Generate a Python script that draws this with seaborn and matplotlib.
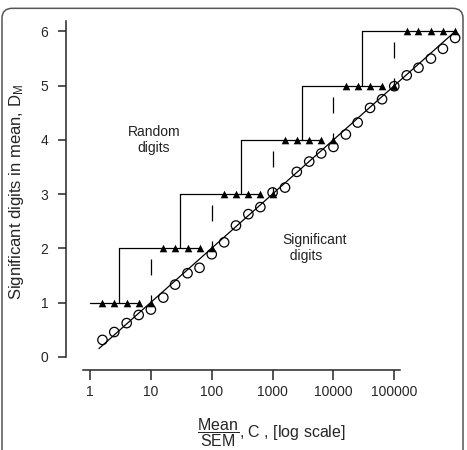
import numpy as np
import pandas as pd
import seaborn as sns
import matplotlib
matplotlib.use("Agg")
import matplotlib.pyplot as plt
from matplotlib.patches import FancyBboxPatch

# mean/SEM ratio C (log spaced) and the digits
ratio = [1.6, 2.5, 4, 6.3, 10, 16, 25, 40, 63, 100,
         160, 250, 400, 630, 1000, 1600, 2500, 4000, 6300, 10000,
         16000, 25000, 40000, 63000, 100000, 160000, 250000, 400000, 630000, 1000000]
sig_digits = [0.31, 0.455, 0.62, 0.77, 0.87, 1.09, 1.33, 1.54, 1.64, 1.89,
              2.11, 2.42, 2.63, 2.76, 3.03, 3.12, 3.41, 3.6, 3.75, 3.87,
              4.1, 4.32, 4.59, 4.75, 4.99, 5.19, 5.33, 5.5, 5.68, 5.88]
rand_digits = [1, 1, 1, 1, 1, 2, 2, 2, 2, 2,
               3, 3, 3, 3, 3, 4, 4, 4, 4, 4,
               5, 5, 5, 5, 5, 6, 6, 6, 6, 6]

# staircase (solid)
step_levels = [1, 2, 3, 4, 5, 6]
step_from = [1, 3, 30, 300, 3000, 30000]
step_to = [6.3, 63, 630, 6300, 63000, 1000000]

# dashed markers at each decade
dash_x = [10, 100, 1000, 10000, 100000]
dash_bottom = [1, 2, 3, 4, 5]
dash_top = [1.8, 2.8, 3.8, 4.8, 5.8]

# diagonal line D = log10(C)
fit_x = [1.4, 1000000]
fit_y = [0.15, 6.0]

xticks = [1, 10, 100, 1000, 10000, 100000]
xtick_labels = ["1", "10", "100", "1000", "10000", "100000"]
yticks = [0, 1, 2, 3, 4, 5, 6]

sns.set_style("ticks")
plt.rcParams["font.family"] = ["Liberation Sans", "DejaVu Sans"]
plt.rcParams["mathtext.fontset"] = "custom"
plt.rcParams["mathtext.rm"] = "Liberation Sans"
plt.rcParams["mathtext.it"] = "Liberation Sans:italic"
plt.rcParams["lines.scale_dashes"] = False

fig = plt.figure(figsize=(4.67, 4.5), dpi=100)
ax = fig.add_axes([0.1407, 0.1784, 0.8469, 0.7878])
ax.set_xscale("log")

rows = []
for i, (lev, x0, x1) in enumerate(zip(step_levels, step_from, step_to)):
    rows += [("h%d" % i, x0, lev), ("h%d" % i, x1, lev)]
    if i > 0:
        rows += [("v%d" % i, x0, lev - 1), ("v%d" % i, x0, lev)]
stairs = pd.DataFrame(rows, columns=["seg", "x", "y"])
sns.lineplot(data=stairs, x="x", y="y", units="seg", estimator=None, sort=False,
             color="black", lw=0.9, ax=ax)

drows = []
for i, (xd, lo, hi) in enumerate(zip(dash_x, dash_bottom, dash_top)):
    drows += [(i, xd, hi), (i, xd, lo)]
dashes = pd.DataFrame(drows, columns=["seg", "x", "y"])
sns.lineplot(data=dashes, x="x", y="y", units="seg", estimator=None, sort=False,
             color="black", lw=0.9, linestyle=(0, (11.5, 14.4)), ax=ax)

sns.lineplot(x=fit_x, y=fit_y, color="black", lw=0.9, ax=ax)

sns.scatterplot(x=ratio, y=sig_digits, marker="o", s=46, color="black",
                linewidth=0.9, ax=ax, zorder=3)
ax.collections[-1].set_facecolor("none")
ax.collections[-1].set_edgecolor("black")
sns.scatterplot(x=ratio, y=rand_digits, marker="^", s=30, color="black",
                linewidth=0, ax=ax, zorder=4)

ax.set_xlim(10 ** -0.4, 10 ** 6.1)
ax.set_ylim(-0.24, 6.3)
ax.set_xticks(xticks)
ax.set_xticklabels(xtick_labels)
ax.xaxis.set_minor_locator(matplotlib.ticker.NullLocator())
ax.set_yticks(yticks)
ax.tick_params(axis="y", length=6, width=1.1, pad=6.5, labelsize=10)
ax.tick_params(axis="x", length=7, width=1.1, pad=4, labelsize=10)
sns.despine(ax=ax)
ax.spines["left"].set_bounds(0, 6.2)
ax.spines["bottom"].set_bounds(10 ** -0.115, 10 ** 5.1)
for s in ("left", "bottom"):
    ax.spines[s].set_linewidth(1.1)
ax.set_xlabel("")
ax.set_ylabel("")

ax.text(11.2, 4.0, "Random\ndigits", ha="center", va="center", fontsize=10,
        color="#222222")
ax.text(1450, 2.0, "Significant\n  digits", ha="left", va="center", fontsize=10,
        multialignment="left", color="#222222")

fig.text(17 / 467, 1 - 192 / 450, r"Significant digits in mean, D$_\mathrm{M}$",
         rotation=90, ha="center", va="center", fontsize=12)
fig.text(197 / 467, (450 - 437) / 450,
         r"$\dfrac{\mathrm{Mean}}{\mathrm{SEM}}$, C , [log scale]",
         ha="left", va="baseline", fontsize=11.5)

fig.patches.append(FancyBboxPatch((2 / 467, -0.05), 461 / 467, 1.0315,
                                  boxstyle="round,pad=0,rounding_size=0.022",
                                  transform=fig.transFigure, fill=False,
                                  ec="#555555", lw=1.1))

fig.savefig("out.png", dpi=100)
